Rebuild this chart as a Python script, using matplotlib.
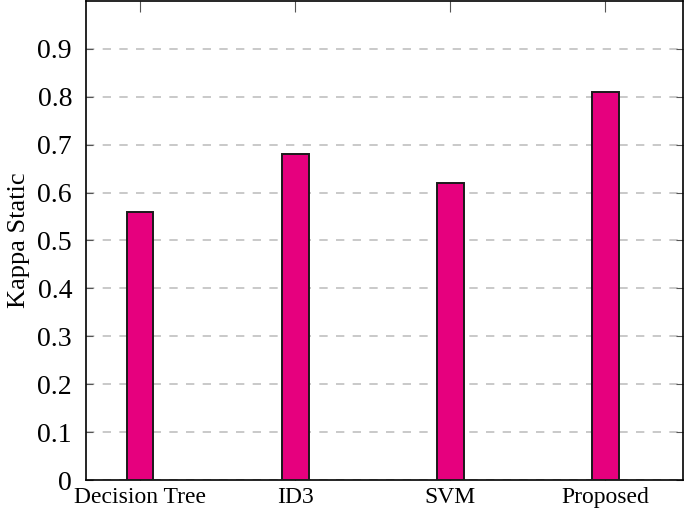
import matplotlib.pyplot as plt

methods = ['Decision Tree', 'ID3', 'SVM', 'Proposed']
kappa = [0.56, 0.68, 0.62, 0.81]
yticks = [0, 0.1, 0.2, 0.3, 0.4, 0.5, 0.6, 0.7, 0.8, 0.9]

plt.rcParams['font.family'] = ['Liberation Serif', 'DejaVu Serif']

fig = plt.figure(figsize=(6.85, 5.11), dpi=100)
ax = fig.add_axes([86 / 685, 31 / 511, 597 / 685, 479 / 511])

x = list(range(len(methods)))
ax.bar(x, kappa, width=0.17, color='#e6007e', edgecolor='#1a1a1a', linewidth=1.4, zorder=3)

ax.set_xlim(-0.35, 3.5)
ax.set_ylim(0, 1.0)
ax.set_yticks(yticks)
ax.set_yticklabels([('%g' % v) for v in yticks], fontsize=20)
ax.set_xticks(x)
ax.set_xticklabels(methods, fontsize=17)
ax.set_ylabel('Kappa Static', fontsize=19)
ax.yaxis.set_label_coords(-0.093, 0.5)

ax.yaxis.grid(True, linestyle=(0, (5, 5)), color='#c0c0c0', linewidth=1.2, zorder=0)
ax.tick_params(axis='y', direction='in', length=5, color='#555555', right=True, pad=10)
ax.tick_params(axis='x', direction='in', length=8, color='#555555', top=True, pad=5)
for s in ax.spines.values():
    s.set_linewidth(1.2)

fig.savefig('out.png', dpi=100)
